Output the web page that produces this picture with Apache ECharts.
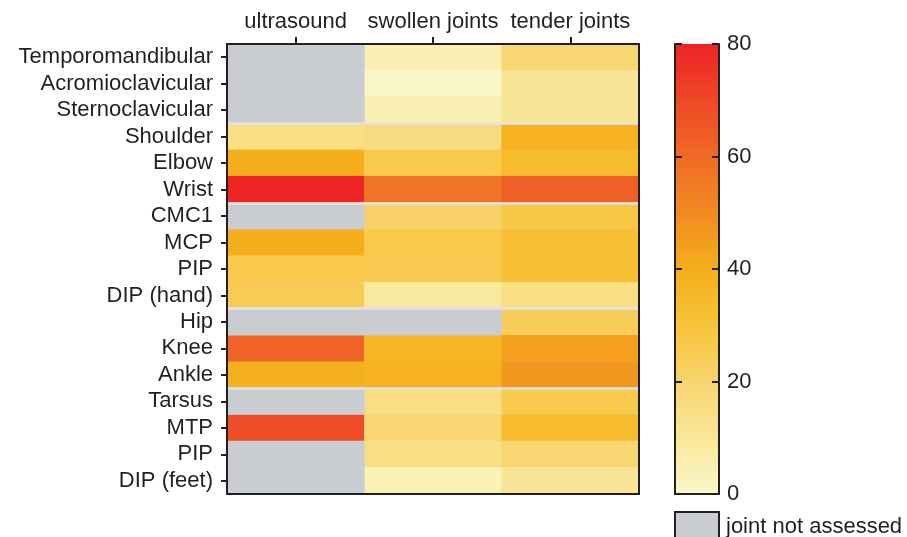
<!DOCTYPE html>
<html><head><meta charset="utf-8">
<script src="https://cdn.jsdelivr.net/npm/echarts@6/dist/echarts.min.js"></script>
<style>html,body{margin:0;padding:0;background:#fff}#c{width:907px;height:537px}</style>
</head><body><div id="c"></div>
<script>
const joints = ['Temporomandibular','Acromioclavicular','Sternoclavicular','Shoulder','Elbow','Wrist','CMC1','MCP','PIP','DIP (hand)','Hip','Knee','Ankle','Tarsus','MTP','PIP','DIP (feet)'];
const measures = ['ultrasound','swollen joints','tender joints'];
const ultrasound = [null,null,null,15,40,79,null,40,27,25,null,62,39,null,69,null,null];
const swollen    = [5,1,5,16,27,57,21,27,26,9,null,37,38,15,19,15,4];
const tender     = [19,11,11,38,34,63,28,32,32,15,24,44,47,26,34,19,11];
const groupBreaks = [3,6,10,13];
const scaleMin = 0, scaleMax = 80, scaleStep = 20;
const scaleColors = ['#FAF7CB','#F9E79A','#F8D46E','#F8C43A','#F5AE1B','#F28B22','#F06A26','#EF4826','#EE2226'];
const notAssessedLabel = 'joint not assessed';

const cols = [ultrasound, swollen, tender];
const valueCells = [], grayCells = [];
cols.forEach((arr, c) => arr.forEach((v, r) => {
  if (v === null) grayCells.push([c, r, 0]); else valueCells.push([c, r, v]);
}));

const ink = '#231F20';
const font = {fontFamily: 'Liberation Sans, Arial, sans-serif', color: ink};
const frameLine = {show: true, lineStyle: {color: ink, width: 2}};
const tickLine = {color: ink, width: 2};

const chart = echarts.init(document.getElementById('c'), null, {renderer: 'canvas'});
chart.setOption({
  animation: false,
  backgroundColor: '#fff',
  grid: [
    {left: 227, top: 44, width: 412, height: 450},
    {left: 675, top: 44, width: 44, height: 450}
  ],
  xAxis: [
    {gridIndex: 0, type: 'category', data: measures, position: 'top', z: 5,
      axisLine: frameLine,
      axisTick: {show: true, interval: 0, alignWithLabel: true, length: 7, lineStyle: tickLine},
      axisLabel: Object.assign({fontSize: 22, margin: 11, interval: 0}, font), splitLine: {show: false}},
    {gridIndex: 0, type: 'category', data: measures, position: 'bottom', z: 5,
      axisLine: frameLine, axisTick: {show: false}, axisLabel: {show: false}},
    {gridIndex: 1, type: 'category', data: ['scale'], position: 'bottom', z: 5,
      axisLine: frameLine, axisTick: {show: false}, axisLabel: {show: false}},
    {gridIndex: 1, type: 'category', data: ['scale'], position: 'top', z: 5,
      axisLine: frameLine, axisTick: {show: false}, axisLabel: {show: false}}
  ],
  yAxis: [
    {gridIndex: 0, type: 'category', data: joints, inverse: true, position: 'left', z: 5,
      axisLine: frameLine,
      axisTick: {show: true, interval: 0, alignWithLabel: true, length: 6, lineStyle: tickLine},
      axisLabel: Object.assign({fontSize: 22, margin: 14, interval: 0}, font), splitLine: {show: false}},
    {gridIndex: 0, type: 'value', min: 0, max: joints.length, inverse: true, position: 'right', z: 5,
      axisLine: frameLine, axisTick: {show: false}, axisLabel: {show: false}, splitLine: {show: false}},
    {gridIndex: 1, type: 'value', min: scaleMin, max: scaleMax, interval: scaleStep, position: 'right', z: 5,
      axisLine: frameLine,
      axisTick: {show: true, inside: true, length: 7, lineStyle: tickLine},
      axisLabel: Object.assign({fontSize: 22, margin: 8}, font), splitLine: {show: false}},
    {gridIndex: 1, type: 'value', min: scaleMin, max: scaleMax, interval: scaleStep, position: 'left', z: 5,
      axisLine: frameLine,
      axisTick: {show: true, inside: true, length: 7, lineStyle: tickLine},
      axisLabel: {show: false}, splitLine: {show: false}}
  ],
  visualMap: {
    type: 'continuous', show: false, seriesIndex: 0, min: scaleMin, max: scaleMax,
    inRange: {color: scaleColors}
  },
  legend: {
    data: [notAssessedLabel], left: 674, top: 511, padding: 0, itemWidth: 44, itemHeight: 30, icon: 'rect',
    itemStyle: {color: '#C9CCD1', borderColor: ink, borderWidth: 2},
    textStyle: Object.assign({fontSize: 22, padding: [0, 0, 0, 2]}, font)
  },
  series: [
    {type: 'heatmap', xAxisIndex: 0, yAxisIndex: 0, data: valueCells, z: 2},
    {type: 'heatmap', name: notAssessedLabel, xAxisIndex: 0, yAxisIndex: 0, data: grayCells, z: 2,
      itemStyle: {color: '#C9CCD1'}},
    {type: 'line', xAxisIndex: 0, yAxisIndex: 1, data: [], z: 3,
      markLine: {silent: true, symbol: ['none', 'none'], label: {show: false},
        lineStyle: {color: '#E2E3E5', width: 2.5, type: 'solid'},
        data: groupBreaks.map(b => ({yAxis: b}))}},
    {type: 'bar', xAxisIndex: 2, yAxisIndex: 2, data: [scaleMax], barWidth: '100%', z: 2,
      itemStyle: {color: new echarts.graphic.LinearGradient(0, 1, 0, 0,
        scaleColors.map((c, i) => ({offset: i / (scaleColors.length - 1), color: c})))}}
  ]
});
</script></body></html>
